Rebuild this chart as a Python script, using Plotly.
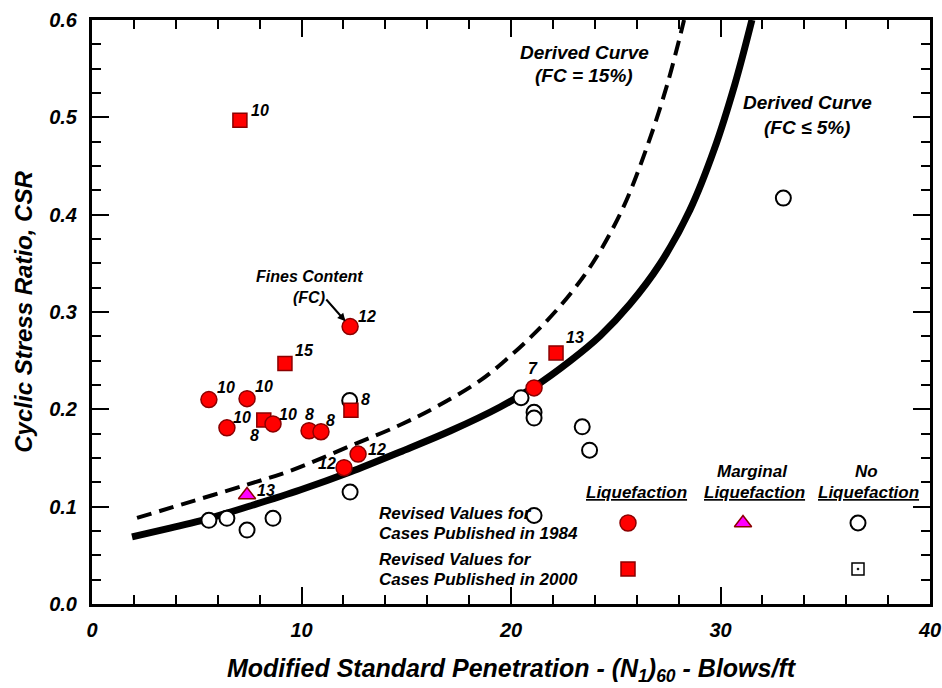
import plotly.graph_objects as go

# ---------------- data ----------------
# Liquefaction, cases published 1984 (red circles)
liq84_n = [12.32, 5.58, 7.40, 6.44, 8.64, 10.36, 10.93, 12.70, 12.03, 21.10]
liq84_csr = [0.285, 0.210, 0.211, 0.181, 0.185, 0.178, 0.177, 0.154, 0.140, 0.222]
liq84_fc = ["12", "10", "10", "10", "10", "8", "8", "12", "12", "7"]

# Liquefaction, cases published 2000 (red squares)
liq00_n = [7.06, 9.21, 8.20, 12.36, 22.15]
liq00_csr = [0.497, 0.247, 0.189, 0.199, 0.258]
liq00_fc = ["10", "15", "8", "8", "13"]

# Marginal liquefaction (1984)
marg_n = [7.40]
marg_csr = [0.112]
marg_fc = ["13"]

# No liquefaction (1984)
noliq_n = [5.58, 6.44, 7.40, 8.64, 12.32, 12.30, 20.48, 21.10, 21.10, 23.40, 23.75, 21.10, 33.00]
noliq_csr = [0.086, 0.088, 0.076, 0.088, 0.115, 0.209, 0.212, 0.197, 0.191, 0.182, 0.158, 0.091, 0.417]

# Derived curves
curve5_n = [1.91, 3.72, 5.16, 7.54, 9.93, 12.32, 14.70, 17.09, 19.48, 21.10, 22.82, 24.25,
            25.68, 27.11, 28.54, 29.69, 30.69, 31.50]
curve5_csr = [0.069, 0.078, 0.0853, 0.1007, 0.1171, 0.1356, 0.1562, 0.1777, 0.2024, 0.2230,
              0.2497, 0.2754, 0.3082, 0.3493, 0.4048, 0.4665, 0.5343, 0.600]
curve15_n = [2.15, 4.34, 7.35, 9.45, 12.32, 14.70, 16.47, 18.52, 19.71, 21.00, 22.43, 23.87,
             25.30, 26.44, 27.45, 28.26]
curve15_csr = [0.0884, 0.1027, 0.1223, 0.1367, 0.1623, 0.1839, 0.2030, 0.2295, 0.2500, 0.2754,
               0.3082, 0.3493, 0.4048, 0.4665, 0.5332, 0.600]

x_ticks = [0, 10, 20, 30, 40]
y_ticks = [0.0, 0.1, 0.2, 0.3, 0.4, 0.5, 0.6]
y_ticklabels = ["0.0", "0.1", "0.2", "0.3", "0.4", "0.5", "0.6"]

# label offsets (pixels) for FC numbers: (xshift, yshift, xanchor)
liq84_off = [(6, 10, "left"), (6, 12, "left"), (6, 12, "left"), (4, 10, "left"), (4, 9, "left"),
             (-6, 16, "left"), (3, 11, "left"), (8, 5, "left"), (-6, 4, "right"), (-1, 19, "center")]
liq00_off = [(9, 10, "left"), (8, 13, "left"), (-3, -15, "right"), (8, 11, "left"), (8, 15, "left")]
marg_off = [(8, 4, "left")]

FONT = "Liberation Sans"
NARROW = "Liberation Sans Narrow, Liberation Sans"

fig = go.Figure()

fig.add_trace(go.Scatter(x=curve15_n, y=curve15_csr, mode="lines", line_shape="spline",
                         line=dict(color="black", width=4, dash="15px,8px", smoothing=1.0),
                         hoverinfo="skip"))
fig.add_trace(go.Scatter(x=curve5_n, y=curve5_csr, mode="lines", line_shape="spline",
                         line=dict(color="black", width=7, smoothing=1.0), hoverinfo="skip"))

fig.add_trace(go.Scatter(x=noliq_n, y=noliq_csr, mode="markers",
                         marker=dict(symbol="circle", size=15, color="white",
                                     line=dict(color="black", width=2))))
fig.add_trace(go.Scatter(x=liq00_n, y=liq00_csr, mode="markers",
                         marker=dict(symbol="square", size=14, color="#ff0000",
                                     line=dict(color="#8b0000", width=1.5))))
fig.add_trace(go.Scatter(x=liq84_n, y=liq84_csr, mode="markers",
                         marker=dict(symbol="circle", size=16, color="#ff0000",
                                     line=dict(color="#8b0000", width=1.5))))
fig.add_trace(go.Scatter(x=marg_n, y=marg_csr, mode="markers",
                         marker=dict(symbol="triangle-up", size=15, color="#ff00ff",
                                     line=dict(color="#8b0000", width=1.5))))

anns = []
lab_font = dict(family=FONT, size=16, color="black", weight="bold", style="italic")
for xs, ys, ts, offs in [(liq84_n, liq84_csr, liq84_fc, liq84_off),
                         (liq00_n, liq00_csr, liq00_fc, liq00_off),
                         (marg_n, marg_csr, marg_fc, marg_off)]:
    for x, y, t, (dx, dy, xa) in zip(xs, ys, ts, offs):
        anns.append(dict(x=x, y=y, text=t, showarrow=False, xshift=dx, yshift=dy,
                         xanchor=xa, yanchor="middle", font=lab_font))


def px(xp, yp):
    return (xp - 92) / 838, 1 - (yp - 20) / 584


def add_text(txt, xp, yp, font, xanchor="center"):
    xx, yy = px(xp, yp)
    anns.append(dict(x=xx, y=yy, xref="paper", yref="paper", text=txt, showarrow=False,
                     font=font, xanchor=xanchor, yanchor="middle"))


# curve labels
cfont = dict(family=FONT, size=19, color="black", weight="bold", style="italic")
add_text("Derived Curve", 584, 52, cfont)
add_text("(FC = 15%)", 584, 75, cfont)
add_text("Derived Curve", 807, 103, cfont)
add_text("(FC ≤ 5%)", 807, 128, cfont)

# Fines content pointer
ffont = dict(family=FONT, size=16, color="black", weight="bold", style="italic")
add_text("Fines Content", 309, 276, ffont)
add_text("(FC)", 309, 297, ffont)
anns.append(dict(x=liq84_n[0], y=liq84_csr[0], ax=11.12, ay=0.3144, axref="x", ayref="y",
                 text="", showarrow=True, arrowhead=2, arrowsize=0.8, arrowwidth=2,
                 arrowcolor="black", standoff=7))

# legend block
lfont = dict(family=FONT, size=17, color="black", weight="bold", style="italic")
add_text("<u>Liquefaction</u>", 636, 492, lfont)
add_text("Marginal", 752, 471, lfont)
add_text("<u>Liquefaction</u>", 754, 492, lfont)
add_text("No", 866, 471, lfont)
add_text("<u>Liquefaction</u>", 868, 492, lfont)
add_text("Revised Values for", 377, 513, lfont, "left")
add_text("Cases Published in 1984", 377, 533, lfont, "left")
add_text("Revised Values for", 377, 559, lfont, "left")
add_text("Cases Published in 2000", 377, 579, lfont, "left")

leg_items = [(628, 523, "circle", 16, "#ff0000", "#8b0000", 1.5),
             (743, 523, "triangle-up", 15, "#ff00ff", "#8b0000", 1.5),
             (858, 523, "circle", 15, "white", "black", 2),
             (628, 569, "square", 14, "#ff0000", "#8b0000", 1.5),
             (858, 569, "square-open-dot", 12, "black", "black", 1.5)]
for xp, yp, sym, sz, fc, lc, lw in leg_items:
    fig.add_trace(go.Scatter(x=[(xp - 92) / 20.95], y=[(604 - yp) / 973.3], mode="markers",
                             marker=dict(symbol=sym, size=sz, color=fc,
                                         line=dict(color=lc, width=lw)), hoverinfo="skip"))

tickfont = dict(family=FONT, size=20, color="black", weight="bold", style="italic")
xtitlefont = dict(family=NARROW, size=25, color="black", weight="bold", style="italic")
ytitlefont = dict(family=NARROW, size=24, color="black", weight="bold", style="italic")

fig.update_layout(
    width=942, height=688,
    margin=dict(l=92, r=12, t=20, b=84),
    plot_bgcolor="white", paper_bgcolor="white",
    showlegend=False,
    annotations=anns,
    xaxis=dict(range=[0, 40], tickvals=x_ticks, ticks="inside", ticklen=17, tickwidth=2,
               tickcolor="black", showline=True, linecolor="black", linewidth=3,
               mirror="ticks", showgrid=False, zeroline=False, tickfont=tickfont,
               automargin=False, ticklabelstandoff=6,
               minor=dict(dtick=2, ticks="inside", ticklen=9, tickwidth=2, tickcolor="black",
                          showgrid=False),
               title=dict(text="Modified Standard Penetration - (N<sub>1</sub>)<sub>60</sub> - Blows/ft",
                          font=xtitlefont, standoff=20)),
    yaxis=dict(range=[0, 0.6], tickvals=y_ticks, ticktext=y_ticklabels, ticks="inside",
               ticklen=17, tickwidth=2, tickcolor="black", showline=True, linecolor="black",
               linewidth=3, mirror="ticks", showgrid=False, zeroline=False, tickfont=tickfont,
               ticklabelstandoff=8, automargin=False,
               minor=dict(dtick=0.025, ticks="inside", ticklen=9, tickwidth=2, tickcolor="black",
                          showgrid=False),
               title=dict(text="Cyclic Stress Ratio, CSR", font=ytitlefont, standoff=10)),
)

fig.write_html("out.html")
